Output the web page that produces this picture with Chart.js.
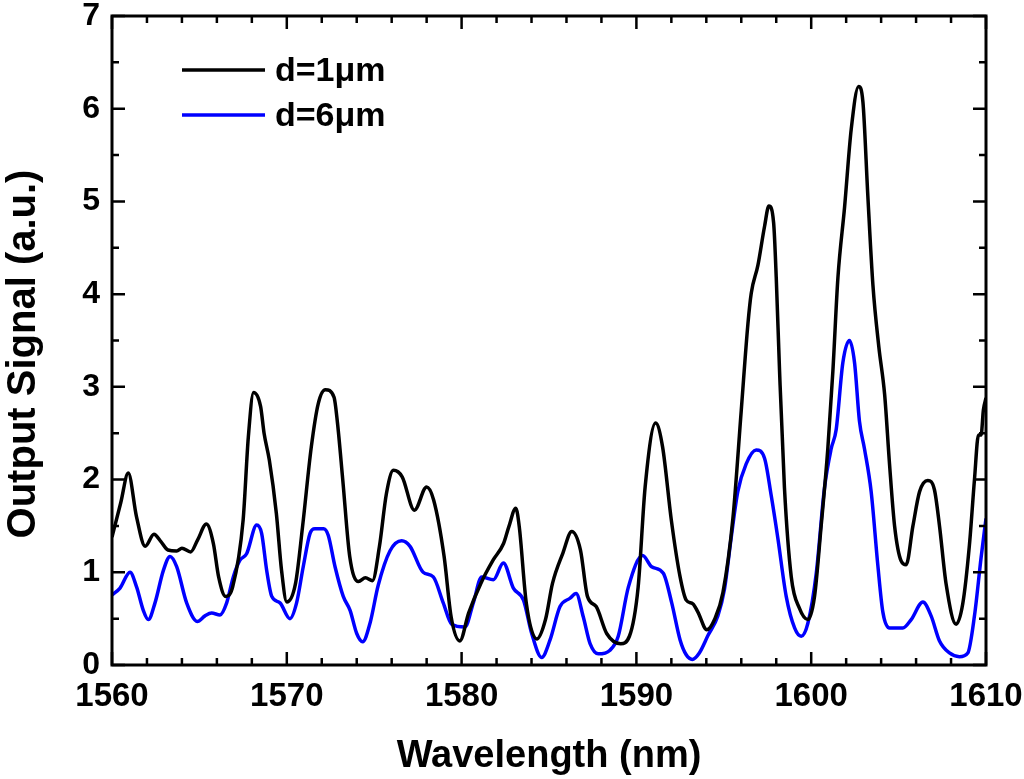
<!DOCTYPE html>
<html>
<head>
<meta charset="utf-8">
<script src="https://cdn.jsdelivr.net/npm/chart.js@4.4.1/dist/chart.umd.min.js"></script>
<style>
  html, body { margin: 0; padding: 0; background: #fff; }
  #wrap { width: 1024px; height: 779px; }
</style>
</head>
<body>
<div id="wrap"><canvas id="grafico" width="1024" height="779"></canvas></div>
<script>
// datos
const wl1 = [1560.0, 1560.5, 1560.93, 1561.4, 1561.9, 1562.4, 1562.8, 1563.2, 1563.7, 1564.0,
  1564.5, 1564.9, 1565.4, 1565.8, 1566.1, 1566.5, 1566.9, 1567.5, 1567.8, 1568.1,
  1568.5, 1568.7, 1569.0, 1569.4, 1569.7, 1570.0, 1570.5, 1570.9, 1571.4, 1571.8,
  1572.2, 1572.7, 1572.9, 1573.2, 1573.6, 1574.1, 1574.5, 1574.9, 1575.3, 1575.7,
  1576.1, 1576.6, 1577.3, 1578.0, 1578.4, 1579.0, 1579.4, 1579.9, 1580.4, 1581.1,
  1581.8, 1582.4, 1582.7, 1583.1, 1583.3, 1583.7, 1584.3, 1584.8, 1585.2, 1585.8,
  1586.3, 1586.8, 1587.2, 1587.7, 1588.3, 1589.1, 1589.6, 1590.1, 1590.5, 1591.1,
  1591.5, 1592.0, 1592.5, 1592.85, 1593.23, 1593.52, 1594.03, 1594.47, 1594.95, 1595.52,
  1596.0, 1596.38, 1596.57, 1596.95, 1597.33, 1597.58, 1597.85, 1598.0, 1598.19, 1598.47,
  1598.86, 1599.33, 1599.81, 1600.19, 1600.57, 1600.95, 1601.24, 1601.53, 1601.91, 1602.29,
  1602.71, 1602.96, 1603.24, 1603.53, 1603.87, 1604.2, 1604.48, 1604.77, 1605.15, 1605.43,
  1605.82, 1606.2, 1606.67, 1607.05, 1607.34, 1607.72, 1608.29, 1608.67, 1609.05, 1609.34,
  1609.57, 1609.72, 1609.85, 1610.0];
const senal1 = [1.38, 1.75, 2.07, 1.6, 1.28, 1.41, 1.33, 1.24, 1.23, 1.26,
  1.22, 1.35, 1.52, 1.31, 0.95, 0.74, 0.84, 1.56, 2.46, 2.94,
  2.79, 2.5, 2.21, 1.64, 1.02, 0.68, 0.88, 1.49, 2.35, 2.82,
  2.97, 2.89, 2.61, 2.0, 1.17, 0.9, 0.94, 0.91, 1.28, 1.85,
  2.1, 2.03, 1.67, 1.92, 1.78, 1.17, 0.52, 0.26, 0.56, 0.88,
  1.13, 1.31, 1.49, 1.69, 1.49, 0.67, 0.28, 0.49, 0.88, 1.21,
  1.44, 1.24, 0.74, 0.63, 0.34, 0.23, 0.31, 0.84, 1.92, 2.61,
  2.35, 1.56, 0.95, 0.7, 0.66, 0.57, 0.38, 0.49, 0.78, 1.58,
  2.75, 3.68, 4.01, 4.31, 4.73, 4.95, 4.77, 4.18, 3.17, 1.91,
  0.95, 0.61, 0.49, 0.74, 1.5, 2.33, 3.17, 4.18, 4.94, 5.78,
  6.24, 6.07, 5.06, 4.1, 3.43, 2.92, 2.17, 1.5, 1.12, 1.08,
  1.5, 1.87, 1.99, 1.89, 1.5, 0.87, 0.44, 0.66, 1.29, 2.0,
  2.48, 2.48, 2.75, 2.88];

const wl6 = [1560.0, 1560.46, 1561.03, 1561.41, 1561.79, 1562.08, 1562.46, 1562.94, 1563.32, 1563.7,
  1564.27, 1564.88, 1565.32, 1565.7, 1566.18, 1566.56, 1566.94, 1567.32, 1567.7, 1568.28,
  1568.56, 1568.85, 1569.14, 1569.61, 1570.18, 1570.56, 1570.94, 1571.33, 1571.61, 1572.1,
  1572.37, 1572.76, 1573.23, 1573.62, 1574.0, 1574.34, 1574.76, 1575.23, 1575.9, 1576.57,
  1577.05, 1577.8, 1578.38, 1578.95, 1579.43, 1580.19, 1580.67, 1581.15, 1581.82, 1582.39,
  1582.96, 1583.54, 1584.01, 1584.58, 1585.06, 1585.63, 1586.2, 1586.55, 1586.96, 1587.35,
  1587.82, 1588.49, 1588.96, 1589.54, 1590.36, 1590.87, 1591.54, 1592.02, 1592.5, 1592.85,
  1593.2, 1593.6, 1594.1, 1594.66, 1595.04, 1595.42, 1595.8, 1596.28, 1596.85, 1597.33,
  1597.71, 1598.09, 1598.57, 1599.05, 1599.43, 1599.81, 1600.29, 1600.76, 1601.14, 1601.43,
  1601.81, 1602.19, 1602.48, 1602.76, 1603.05, 1603.43, 1603.81, 1604.1, 1604.48, 1605.24,
  1605.72, 1606.39, 1606.86, 1607.34, 1607.91, 1608.48, 1608.96, 1609.34, 1609.72, 1610.0];
const senal6 = [0.755, 0.83, 1.0, 0.84, 0.59, 0.49, 0.67, 1.02, 1.17, 1.06,
  0.67, 0.47, 0.53, 0.56, 0.54, 0.67, 0.95, 1.13, 1.2, 1.51,
  1.42, 1.02, 0.74, 0.67, 0.5, 0.67, 1.06, 1.42, 1.47, 1.47,
  1.4, 1.06, 0.74, 0.59, 0.34, 0.25, 0.45, 0.86, 1.23, 1.34,
  1.28, 1.0, 0.95, 0.67, 0.44, 0.41, 0.67, 0.95, 0.92, 1.1,
  0.83, 0.7, 0.34, 0.08, 0.27, 0.63, 0.72, 0.77, 0.52, 0.23,
  0.12, 0.16, 0.31, 0.84, 1.18, 1.06, 0.99, 0.67, 0.27, 0.11,
  0.06, 0.13, 0.32, 0.53, 0.82, 1.37, 1.87, 2.17, 2.32, 2.23,
  1.83, 1.37, 0.74, 0.4, 0.31, 0.45, 0.99, 1.91, 2.33, 2.54,
  3.26, 3.5, 3.26, 2.63, 2.33, 1.87, 1.08, 0.57, 0.4, 0.4,
  0.49, 0.68, 0.53, 0.26, 0.13, 0.09, 0.13, 0.53, 1.16, 1.58];

const etiquetas = ['d=1\u03bcm', 'd=6\u03bcm'];
const colores = ['#000000', '#0000ff'];
const tituloY = 'Output Signal (a.u.)';

const fuente = '"Liberation Sans", Arial, sans-serif';

function puntos(xs, ys) {
  return xs.map((x, i) => ({ x: x, y: ys[i] }));
}

// marco con marcas hacia dentro en los cuatro lados, leyenda y titulo del eje y
const marco = {
  id: 'marco',
  afterDatasetsDraw(chart) {
    const ctx = chart.ctx;
    const a = chart.chartArea;
    const sx = chart.scales.x, sy = chart.scales.y;
    ctx.save();
    ctx.strokeStyle = '#000';
    ctx.lineWidth = 2.5;
    for (let v = 1560; v <= 1610; v += 2) {
      const px = sx.getPixelForValue(v);
      const len = (v % 10 === 0) ? 13 : 7;
      ctx.beginPath();
      ctx.moveTo(px, a.bottom); ctx.lineTo(px, a.bottom - len);
      ctx.moveTo(px, a.top); ctx.lineTo(px, a.top + len);
      ctx.stroke();
    }
    for (let v = 0; v <= 7; v += 0.5) {
      const py = sy.getPixelForValue(v);
      const len = (v % 1 === 0) ? 13 : 7;
      ctx.beginPath();
      ctx.moveTo(a.left, py); ctx.lineTo(a.left + len, py);
      ctx.moveTo(a.right, py); ctx.lineTo(a.right - len, py);
      ctx.stroke();
    }
    ctx.lineWidth = 3;
    ctx.strokeRect(a.left, a.top, a.right - a.left, a.bottom - a.top);

    // leyenda
    ctx.font = 'bold 34px ' + fuente;
    ctx.textBaseline = 'middle';
    ctx.textAlign = 'left';
    chart.data.datasets.forEach((ds, i) => {
      const y = 70 + i * 45;
      ctx.strokeStyle = ds.borderColor;
      ctx.lineWidth = 3.5;
      ctx.beginPath();
      ctx.moveTo(182, y); ctx.lineTo(265, y);
      ctx.stroke();
      ctx.fillStyle = '#000';
      ctx.fillText(ds.label, 275, y + 2);
    });

    // titulo eje y
    ctx.translate(24, 354);
    ctx.rotate(-Math.PI / 2);
    ctx.textAlign = 'center';
    ctx.font = 'bold 40px ' + fuente;
    ctx.fillText(tituloY, 0, 0);
    ctx.restore();
  }
};

new Chart(document.getElementById('grafico'), {
  type: 'line',
  data: {
    datasets: [
      { label: etiquetas[0], data: puntos(wl1, senal1), borderColor: colores[0], borderWidth: 3.5 },
      { label: etiquetas[1], data: puntos(wl6, senal6), borderColor: colores[1], borderWidth: 3.5 }
    ]
  },
  options: {
    responsive: false,
    animation: false,
    layout: { padding: { top: 16, right: 38, left: 0, bottom: 0 } },
    elements: {
      point: { radius: 0 },
      line: { tension: 0.4, cubicInterpolationMode: 'monotone', fill: false }
    },
    plugins: { legend: { display: false }, tooltip: { enabled: false } },
    scales: {
      x: {
        type: 'linear',
        min: 1560, max: 1610,
        afterFit(s) { s.height = 114; s.paddingLeft = 0; s.paddingRight = 0; },
        grid: { display: false, drawTicks: false },
        border: { display: false },
        ticks: { stepSize: 10, padding: 12, color: '#000', callback: v => String(v),
          font: { family: fuente, size: 33, weight: 'bold' } },
        title: { display: true, text: 'Wavelength (nm)', color: '#000', padding: 0,
          font: { family: fuente, size: 38, weight: 'bold' } }
      },
      y: {
        min: 0, max: 7,
        afterFit(s) { s.width = 112; s.paddingTop = 0; s.paddingBottom = 0; },
        grid: { display: false, drawTicks: false },
        border: { display: false },
        ticks: { stepSize: 1, padding: 12, color: '#000', callback: v => String(v),
          font: { family: fuente, size: 32, weight: 'bold' } },
        title: { display: false }
      }
    }
  },
  plugins: [marco]
});
</script>
</body>
</html>
